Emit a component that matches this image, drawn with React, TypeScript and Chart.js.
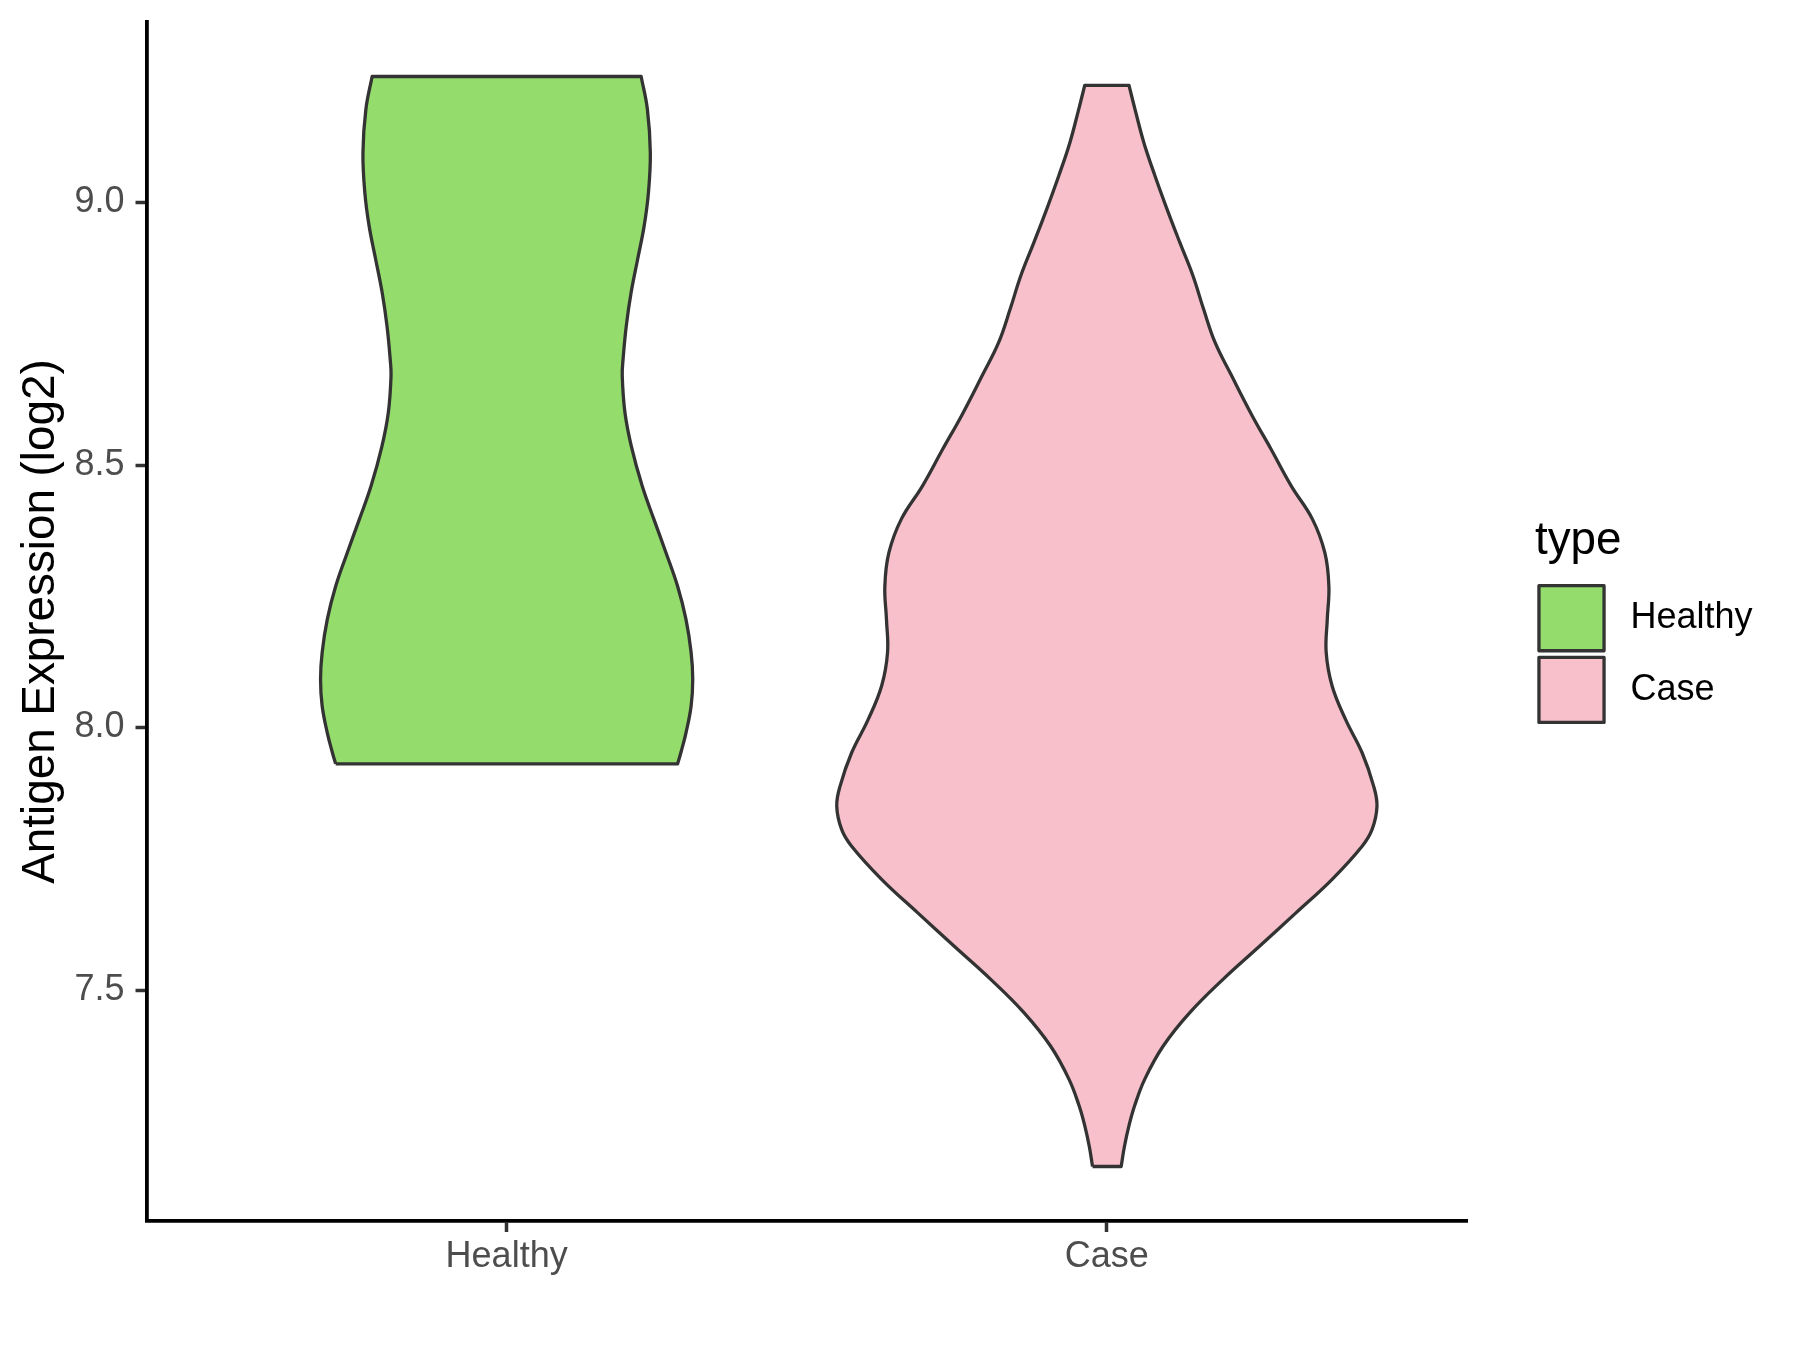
import React, { useEffect, useRef } from "react";
import { Chart, registerables } from "chart.js";

Chart.register(...registerables);

// ---- data ----
const categories = ["Healthy", "Case"];
const yTicks = [7.5, 8.0, 8.5, 9.0];

// violin outlines: expression level (log2) and relative density (1 = widest violin)
const healthyLevels = [7.931, 7.952, 7.990, 8.041, 8.092, 8.143, 8.206, 8.269, 8.333, 8.397, 8.460, 8.535, 8.600, 8.670, 8.701, 8.765, 8.829, 8.892, 8.955, 9.019, 9.095, 9.178, 9.240];
const healthyDensity = [0.633, 0.645, 0.664, 0.683, 0.689, 0.683, 0.664, 0.633, 0.590, 0.545, 0.502, 0.462, 0.438, 0.428, 0.431, 0.443, 0.461, 0.485, 0.509, 0.525, 0.532, 0.521, 0.498];

const caseLevels = [7.164, 7.202, 7.240, 7.280, 7.330, 7.393, 7.457, 7.520, 7.583, 7.647, 7.711, 7.774, 7.806, 7.850, 7.888, 7.952, 8.015, 8.079, 8.143, 8.206, 8.269, 8.333, 8.397, 8.460, 8.530, 8.595, 8.670, 8.733, 8.797, 8.860, 8.924, 8.987, 9.051, 9.114, 9.178, 9.223];
const caseDensity = [0.053, 0.065, 0.081, 0.103, 0.140, 0.208, 0.307, 0.429, 0.564, 0.700, 0.834, 0.945, 0.982, 1.000, 0.988, 0.945, 0.884, 0.834, 0.812, 0.816, 0.822, 0.807, 0.761, 0.683, 0.608, 0.537, 0.462, 0.401, 0.358, 0.319, 0.270, 0.223, 0.178, 0.137, 0.104, 0.082];

// ---- styles ----
const fillColors = ["#94DC6B", "#F7C0CB"];
const outlineColor = "#333333";
const FONT = "'Liberation Sans', Arial, Helvetica, sans-serif";
const HALF_WIDTH = 0.45; // violin width 0.9

const violins = [
  { levels: healthyLevels, density: healthyDensity },
  { levels: caseLevels, density: caseDensity },
];

function violinPolygon(center: number, levels: number[], dens: number[]) {
  const left = levels.map((y, i) => ({ x: center - dens[i] * HALF_WIDTH, y }));
  const right = levels.map((y, i) => ({ x: center + dens[i] * HALF_WIDTH, y })).reverse();
  const n = levels.length;
  // corners duplicated so that the caps stay straight and sharp
  return [left[0], ...left, left[n - 1], right[0], ...right, right[n - 1], left[0]];
}

const allLevels = [...healthyLevels, ...caseLevels];
const lo = Math.min(...allLevels);
const hi = Math.max(...allLevels);
const yPad = 0.05 * (hi - lo);
const yMin = lo - yPad;
const yMax = hi + yPad;

const legendPlugin = {
  id: "ggLegend",
  afterDraw(chart: any) {
    const ctx = chart.ctx as CanvasRenderingContext2D;
    ctx.save();
    ctx.fillStyle = "#000000";
    ctx.textBaseline = "alphabetic";
    ctx.textAlign = "left";
    ctx.font = `45.8px ${FONT}`;
    ctx.fillText("type", 1535, 554);
    const keyX = 1537.3;
    const keyW = 68.4;
    const lw = 3.3;
    categories.forEach((c, i) => {
      const y0 = 584 + i * 71.7;
      ctx.fillStyle = fillColors[i];
      ctx.fillRect(keyX + lw / 2, y0 + lw / 2, keyW - lw, keyW - lw);
      ctx.strokeStyle = outlineColor;
      ctx.lineWidth = lw;
      ctx.lineJoin = "round";
      ctx.strokeRect(keyX + lw / 2, y0 + lw / 2, keyW - lw, keyW - lw);
      ctx.fillStyle = "#000000";
      ctx.font = `36px ${FONT}`;
      ctx.textBaseline = "middle";
      ctx.fillText(c, 1630.5, y0 + keyW / 2);
    });
    ctx.restore();
  },
};

export default function App() {
  const ref = useRef<HTMLCanvasElement>(null);
  useEffect(() => {
    if (!ref.current) return;
    Chart.defaults.font.family = FONT;
    const datasets = violins.map((v, i) => ({
      label: categories[i],
      data: violinPolygon(i + 1, v.levels, v.density),
      borderColor: outlineColor,
      backgroundColor: fillColors[i],
      borderWidth: 3.3,
      borderJoinStyle: "round" as const,
      fill: "shape" as any,
      tension: 0.4,
      pointRadius: 0,
      pointHoverRadius: 0,
    }));
    const chart = new Chart(ref.current, {
      type: "line",
      data: { datasets },
      plugins: [legendPlugin],
      options: {
        animation: false,
        responsive: false,
        devicePixelRatio: 1,
        events: [],
        layout: { padding: { top: 22, right: 333, bottom: 0, left: 0 } },
        plugins: {
          legend: { display: false },
          tooltip: { enabled: false },
          title: { display: false },
        },
        scales: {
          x: {
            type: "linear",
            min: 0.4,
            max: categories.length + 0.6,
            afterBuildTicks: (s: any) => {
              s.ticks = categories.map((_, i) => ({ value: i + 1 }));
            },
            afterFit: (s: any) => {
              s.height = 129;
              s.paddingLeft = 0;
              s.paddingRight = 0;
            },
            ticks: {
              autoSkip: false,
              maxRotation: 0,
              padding: 3.5,
              color: "#4D4D4D",
              font: { size: 36 },
              callback: (v: any) => categories[Math.round(Number(v)) - 1] ?? "",
            },
            grid: {
              display: true,
              drawOnChartArea: false,
              drawTicks: true,
              tickLength: 11,
              tickWidth: 3.5,
              tickColor: "#333333",
            },
            border: { display: true, color: "#000000", width: 3.8 },
          },
          y: {
            type: "linear",
            min: yMin,
            max: yMax,
            afterBuildTicks: (s: any) => {
              s.ticks = yTicks.map((v) => ({ value: v }));
            },
            afterFit: (s: any) => {
              s.width = 146.5;
              s.paddingTop = 0;
              s.paddingBottom = 0;
            },
            ticks: {
              autoSkip: false,
              padding: 11,
              color: "#4D4D4D",
              font: { size: 36 },
              callback: (v: any) => Number(v).toFixed(1),
            },
            grid: {
              display: true,
              drawOnChartArea: false,
              drawTicks: true,
              tickLength: 11,
              tickWidth: 3.5,
              tickColor: "#333333",
            },
            border: { display: true, color: "#000000", width: 3.8 },
            title: {
              display: true,
              text: "Antigen Expression (log2)",
              color: "#000000",
              font: { size: 45.8 },
              padding: { top: 13.5, bottom: 0 },
            },
          },
        },
      },
    });
    return () => chart.destroy();
  }, []);
  return (
    <div style={{ position: "absolute", left: 0, top: 0, width: 1800, height: 1350, background: "#ffffff" }}>
      <canvas ref={ref} width={1800} height={1350} style={{ display: "block", width: 1800, height: 1350 }} />
    </div>
  );
}
